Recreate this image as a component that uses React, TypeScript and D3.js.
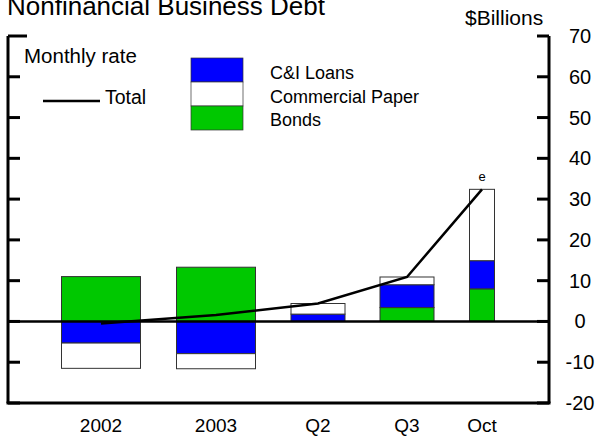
import * as React from 'react';
import * as d3 from "d3";

const categories = ["2002", "2003", "Q2", "Q3", "Oct"];
const ciLoans = [-5.3, -7.9, 1.8, 5.6, 6.9];
const commercialPaper = [-6.2, -3.7, 2.6, 1.9, 17.5];
const bonds = [11.0, 13.3, 0, 3.4, 8.0];
const total = [-0.5, 1.6, 4.4, 10.9, 32.4];
const yTicks = [70, 60, 50, 40, 30, 20, 10, 0, -10, -20];

// centre and width of each bar, in px (annual bars are wider than quarterly/monthly)
const barCenters = [101, 216, 318, 407, 482];
const barWidths = [79, 79, 54, 54, 25];

const W = 597, H = 441;
const left = 8, right = 549, top = 36, bottom = 403;
const font = "Arial, 'Liberation Sans', Helvetica, sans-serif";

interface Seg { y0: number; y1: number; color: string; }

export default function App() {
    const y = d3.scaleLinear().domain([-20, 70]).range([bottom, top]);

    // stack: positives upward from 0, negatives downward, order bonds, C&I, CP
    const stacks: Seg[][] = categories.map((_, i) => {
        let pos = 0, neg = 0;
        const segs: Seg[] = [];
        const parts: [number, string][] = [[bonds[i], "#00c800"], [ciLoans[i], "#0000ff"], [commercialPaper[i], "#ffffff"]];
        parts.forEach(([v, c]) => {
            if (v >= 0) { segs.push({ y0: pos, y1: pos + v, color: c }); pos += v; }
            else { segs.push({ y0: neg, y1: neg + v, color: c }); neg += v; }
        });
        return segs;
    });

    const line = d3.line<number>()
        .x((_, i) => barCenters[i])
        .y(v => y(v));

    return (
        <svg width={W} height={H} style={{ position: "absolute", left: 0, top: 0 }}>
            <rect width={W} height={H} fill="#fff" />
            <text x={7} y={15} fontFamily={font} fontSize={26}>Nonfinancial Business Debt</text>
            <text x={465} y={25} fontFamily={font} fontSize={21}>$Billions</text>

            {stacks.map((segs, i) => segs.filter(s => s.y0 !== s.y1).map((s, j) => (
                <rect key={i + "-" + j}
                    x={barCenters[i] - barWidths[i] / 2}
                    y={y(Math.max(s.y0, s.y1))}
                    width={barWidths[i]}
                    height={Math.abs(y(s.y0) - y(s.y1))}
                    fill={s.color} stroke="#333" strokeWidth={1} />
            )))}

            <line x1={left} x2={right} y1={y(0)} y2={y(0)} stroke="#000" strokeWidth={2.5} />
            <path d={line(total) || undefined} fill="none" stroke="#000" strokeWidth={2.5} />
            <text x={barCenters[4]} y={y(total[4]) - 8} textAnchor="middle" fontFamily={font} fontSize={13}>e</text>

            {/* axes frame */}
            <line x1={left} x2={left} y1={top} y2={bottom} stroke="#000" strokeWidth={3} />
            <line x1={right} x2={right} y1={top} y2={bottom} stroke="#000" strokeWidth={3} />
            <line x1={left - 1.5} x2={right + 1.5} y1={bottom} y2={bottom} stroke="#000" strokeWidth={3} />
            {yTicks.map(t => (
                <g key={t}>
                    <line x1={left} x2={left + (t === 70 ? 19 : 12)} y1={y(t)} y2={y(t)} stroke="#000" strokeWidth={3} />
                    <line x1={right} x2={right - 12} y1={y(t)} y2={y(t)} stroke="#000" strokeWidth={3} />
                    <text x={580} y={y(t) + 7} textAnchor="middle" fontFamily={font} fontSize={20}>{t}</text>
                </g>
            ))}

            {categories.map((c, i) => (
                <text key={c} x={barCenters[i]} y={432} textAnchor="middle" fontFamily={font} fontSize={19}>{c}</text>
            ))}

            {/* legend */}
            <text x={24} y={63} fontFamily={font} fontSize={20.5}>Monthly rate</text>
            <line x1={43} x2={100} y1={101} y2={101} stroke="#000" strokeWidth={2.5} />
            <text x={105} y={104} fontFamily={font} fontSize={19.5}>Total</text>
            {[["#0000ff", "C&I Loans"], ["#ffffff", "Commercial Paper"], ["#00c800", "Bonds"]].map(([c, l], i) => (
                <g key={l}>
                    <rect x={191} y={58 + i * 24} width={52} height={24} fill={c} stroke="#333" strokeWidth={0.7} />
                    <text x={270} y={79 + i * 23.5} fontFamily={font} fontSize={18}>{l}</text>
                </g>
            ))}
        </svg>
    );
}
